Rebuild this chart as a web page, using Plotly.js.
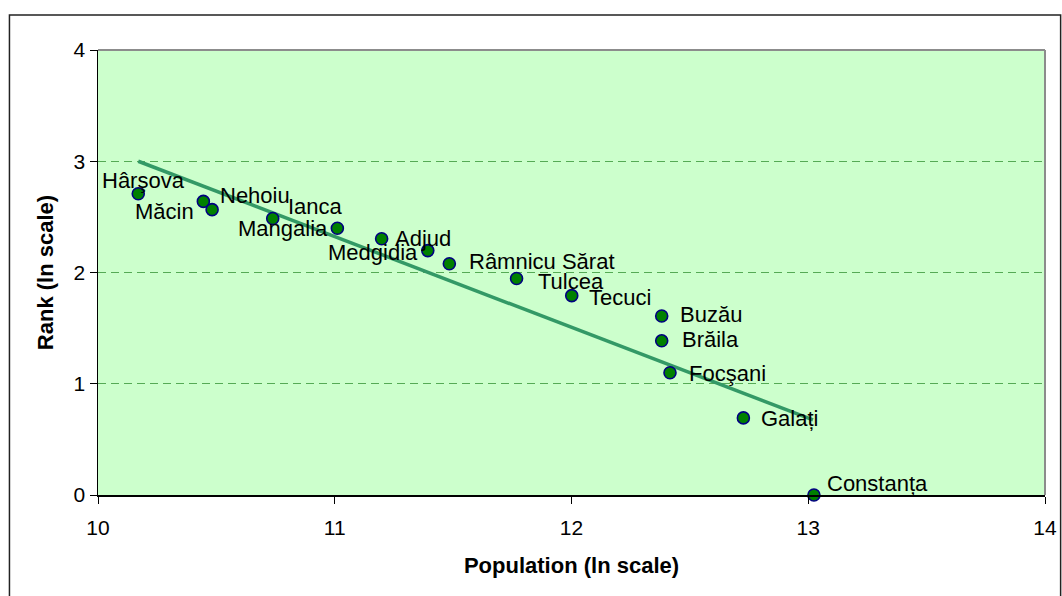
<!DOCTYPE html>
<html>
<head>
<meta charset="utf-8">
<script src="https://cdn.plot.ly/plotly-3.0.1.min.js"></script>
<style>
html,body{margin:0;padding:0;background:#fff;}
#chart{width:1062px;height:596px;}
</style>
</head>
<body>
<div id="chart"></div>
<script>
// ---- data ----
const cities = ["Hârşova","Nehoiu","Măcin","Mangalia","Ianca","Adjud","Medgidia","Râmnicu Sărat","Tulcea","Tecuci","Buzău","Brăila","Focşani","Galați","Constanța"];
const popLn  = [10.17, 10.445, 10.482, 10.738, 11.011, 11.198, 11.393, 11.484, 11.768, 12.001, 12.381, 12.381, 12.416, 12.726, 13.024];
const rankLn = [2.708, 2.639, 2.565, 2.485, 2.398, 2.303, 2.197, 2.079, 1.946, 1.792, 1.609, 1.386, 1.099, 0.693, 0.0];
const trendX = [10.17, 13.02];
const trendY = [3.0, 0.675];
const xTicks = [10, 11, 12, 13, 14];
const yTicks = [0, 1, 2, 3, 4];

// ---- label placement styles (pixel offsets) ----
const lblAnchor = ["center","left","right","center","center","left","right","left","left","left","left","left","left","left","left"];
const lblDx     = [5, 15, -16, 10, -22, 11, -8, 18, 19, 15, 16, 18, 17, 16, 11];
const lblDy     = [13, 6, -2, -10, 22, 0, -2, 2, -3, -2, 2, 1, -1, -1, 12];

const FONT = "'Liberation Sans', Arial, sans-serif";

const annotations = cities.map((c, i) => ({
  x: popLn[i], y: rankLn[i], xref: 'x', yref: 'y',
  text: c, showarrow: false,
  xanchor: lblAnchor[i], yanchor: 'middle',
  xshift: lblDx[i], yshift: lblDy[i],
  font: {family: FONT, size: 22, color: '#000'}
}));

const traces = [
  {
    x: trendX, y: trendY, mode: 'lines', type: 'scatter',
    line: {color: '#339966', width: 3.5},
    hoverinfo: 'skip', showlegend: false
  },
  {
    x: popLn, y: rankLn, mode: 'markers', type: 'scatter',
    marker: {size: 12, color: '#008000', line: {color: '#000080', width: 1.6}},
    cliponaxis: false, showlegend: false, text: cities
  }
];

const layout = {
  width: 1062, height: 596,
  margin: {l: 98, r: 17, t: 50, b: 100.5, pad: 0},
  paper_bgcolor: '#ffffff',
  plot_bgcolor: '#CCFFCC',
  showlegend: false,
  font: {family: FONT, color: '#000'},
  xaxis: {
    range: [10, 14], tickvals: xTicks, ticktext: xTicks.map(String),
    showgrid: false, zeroline: false,
    showline: true, linecolor: '#000', linewidth: 1.5,
    ticks: 'outside', ticklen: 7, tickcolor: '#000', tickwidth: 1,
    ticklabelstandoff: 6,
    tickfont: {family: FONT, size: 21, color: '#000'},
    automargin: false,
    title: {text: '<b>Population (ln scale)</b>', font: {family: FONT, size: 22, color: '#000'}, standoff: 20}
  },
  yaxis: {
    range: [0, 4], tickvals: yTicks, ticktext: yTicks.map(String),
    showgrid: true, gridcolor: '#55AA55', griddash: '8px,5px', gridwidth: 1,
    zeroline: false,
    showline: true, linecolor: '#000', linewidth: 1.5,
    ticks: 'outside', ticklen: 7, tickcolor: '#000', tickwidth: 1,
    tickfont: {family: FONT, size: 21, color: '#000'},
    automargin: false,
    title: {text: '<b>Rank (ln scale)</b>', font: {family: FONT, size: 22, color: '#000'}, standoff: 14}
  },
  annotations: annotations,
  shapes: [
    // plot-area top and right borders
    {type: 'line', xref: 'paper', yref: 'paper', x0: 0, x1: 1, y0: 1, y1: 1, line: {color: '#8c8c8c', width: 2}, layer: 'above'},
    {type: 'line', xref: 'paper', yref: 'paper', x0: 1, x1: 1, y0: 0, y1: 1, line: {color: '#8c8c8c', width: 2}, layer: 'above'},
    // outer chart border
    {type: 'rect', xref: 'paper', yref: 'paper', x0: -0.0935, x1: 1.0165, y0: -0.235, y1: 1.0786,
     line: {color: '#222', width: 1.5}, fillcolor: 'rgba(0,0,0,0)', layer: 'below'}
  ]
};

Plotly.newPlot('chart', traces, layout, {staticPlot: true, displayModeBar: false});
</script>
</body>
</html>
